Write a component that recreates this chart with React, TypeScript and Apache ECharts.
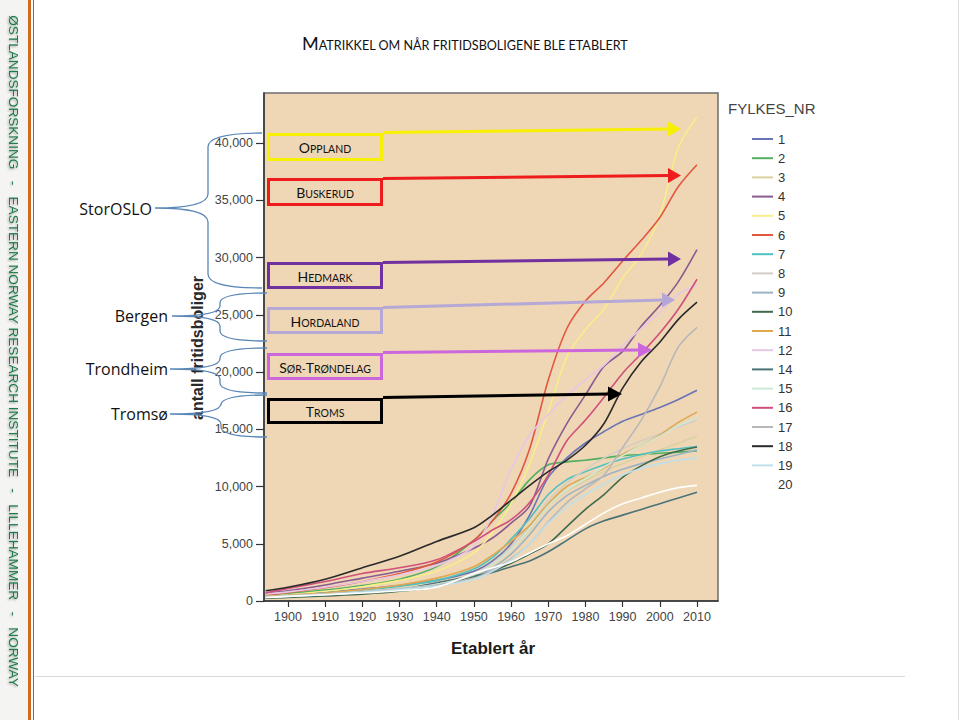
import React, { useEffect, useRef } from 'react';
import * as echarts from 'echarts';

// ---- data ----
const YEARS = [1894, 1900, 1910, 1920, 1930, 1940, 1950, 1955, 1960, 1965, 1970, 1975, 1980, 1985, 1990, 1995, 2000, 2005, 2010];

const F1 = [500, 600, 800, 1050, 1350, 1800, 2600, 3500, 5000, 7500, 10800, 12500, 13800, 14800, 15700, 16300, 16900, 17600, 18400];
const F2 = [500, 650, 950, 1350, 1900, 3000, 5300, 7000, 8600, 10600, 11900, 12150, 12300, 12500, 12700, 12800, 12900, 13000, 13100];
const F3 = [400, 500, 650, 850, 1100, 1500, 2300, 3200, 4500, 6200, 8300, 9600, 10500, 11300, 12000, 12600, 13200, 13800, 14400];
const F4 = [700, 900, 1400, 2000, 2600, 3300, 4600, 5500, 6800, 8300, 12400, 15500, 18000, 20500, 21800, 24000, 25800, 27900, 30700];
const F5 = [400, 550, 850, 1250, 1800, 2600, 4200, 6000, 8500, 12000, 16500, 21300, 23700, 25500, 28200, 30300, 33700, 39600, 42300];
const F6 = [500, 750, 1150, 1700, 2400, 3400, 5300, 7000, 9400, 13300, 19300, 23800, 26200, 27800, 29700, 31500, 33500, 36200, 38100];
const F7 = [400, 500, 700, 950, 1300, 1800, 2800, 3800, 5400, 7200, 9300, 10600, 11300, 11900, 12400, 12800, 13100, 13300, 13500];
const F8 = [400, 500, 650, 850, 1100, 1500, 2400, 3300, 4700, 6500, 8800, 10300, 11500, 12500, 13300, 14000, 14600, 15200, 15800];
const F9 = [350, 450, 600, 800, 1050, 1400, 2100, 2900, 4100, 5800, 7800, 9200, 10100, 10900, 11500, 12000, 12400, 12800, 13200];
const F10 = [250, 300, 450, 600, 850, 1300, 2100, 2600, 3300, 4100, 5000, 6500, 8000, 9300, 10800, 11800, 12600, 13100, 13450];
const F11 = [400, 500, 700, 1000, 1400, 2000, 3000, 4000, 5200, 6600, 8500, 10000, 10800, 11600, 12800, 13600, 14500, 15600, 16500];
const F12 = [600, 800, 1200, 1700, 2300, 3100, 4800, 7500, 11500, 14500, 16300, 18000, 19300, 20600, 22300, 23800, 25200, 26800, 27600];
const F14 = [300, 400, 550, 750, 1000, 1600, 2200, 2500, 3000, 3500, 4300, 5300, 6300, 7000, 7500, 8000, 8500, 9000, 9500];
const F15 = [350, 450, 600, 800, 1050, 1450, 2300, 3200, 4500, 6300, 8300, 9700, 10700, 11700, 12700, 13600, 14400, 15300, 16000];
const F16 = [700, 1100, 1700, 2400, 2900, 3600, 5200, 6200, 7100, 8600, 11000, 14000, 15800, 17800, 19900, 21600, 23400, 25500, 28100];
const F17 = [350, 450, 600, 800, 1050, 1400, 2000, 2700, 3700, 5000, 6900, 8600, 9800, 11000, 13400, 15800, 18700, 22200, 23900];
const F18 = [900, 1200, 1900, 2900, 3900, 5200, 6400, 7500, 8800, 10100, 11300, 12300, 13600, 15500, 18600, 20900, 22600, 24600, 26100];
const F19 = [300, 400, 550, 750, 1000, 1300, 1900, 2600, 3600, 5000, 6800, 8200, 9300, 10200, 11000, 11600, 12000, 12300, 12500];
const F20 = [300, 400, 550, 700, 900, 1200, 2400, 2900, 3400, 4200, 5000, 5700, 6700, 7700, 8500, 9000, 9500, 9900, 10100];

const FYLKES_NR = ['1', '2', '3', '4', '5', '6', '7', '8', '9', '10', '11', '12', '14', '15', '16', '17', '18', '19', '20'];
const SERIES_VALUES = [F1, F2, F3, F4, F5, F6, F7, F8, F9, F10, F11, F12, F14, F15, F16, F17, F18, F19, F20];
const LINE_COLORS = ['#6A73B5', '#52B060', '#D9D2A0', '#8A5A90', '#F7EE8A', '#E2583F', '#50C0C0', '#D5CDC5', '#9DB3C5', '#3F6A4E', '#E0A850', '#E6C8E6', '#4A7378', '#CDE8D5', '#D0507A', '#B8B8B8', '#2A2A2A', '#BFE0EA', '#FFFFFF'];

const X_TICKS = [1900, 1910, 1920, 1930, 1940, 1950, 1960, 1970, 1980, 1990, 2000, 2010];
const Y_TICKS = [0, 5000, 10000, 15000, 20000, 25000, 30000, 35000, 40000];

const REGION_LABELS = ['StorOSLO', 'Bergen', 'Trondheim', 'Tromsø'];
const BOX_TEXTS = ['{a|O}{b|PPLAND}', '{a|B}{b|USKERUD}', '{a|H}{b|EDMARK}', '{a|H}{b|ORDALAND}', '{a|S}{b|ØR-}{a|T}{b|RØNDELAG}', '{a|T}{b|ROMS}'];

function bracePath(xEnd: number, yTop: number, yBot: number, xSpine: number, xTip: number, yTip: number, r: number) {
  return `M${xEnd} ${yTop} Q${xSpine} ${yTop} ${xSpine} ${yTop + r} L${xSpine} ${yTip - r} Q${xSpine} ${yTip} ${xTip} ${yTip} Q${xSpine} ${yTip} ${xSpine} ${yTip + r} L${xSpine} ${yBot - r} Q${xSpine} ${yBot} ${xEnd} ${yBot}`;
}

export default function App() {
  const ref = useRef<HTMLDivElement>(null);
  useEffect(() => {
    const braces = [
      ['braceOslo', bracePath(262, 133, 288, 208, 155, 208, 14)],
      ['braceBergen', bracePath(267, 293, 341, 220, 172, 316, 10)],
      ['braceTrondheim', bracePath(267, 348, 393, 220, 170, 369, 10)],
      ['braceTromso', bracePath(267, 395, 437, 221, 170, 414, 10)],
    ];
    braces.forEach(([name, d]) => {
      echarts.graphic.registerShape(name, echarts.graphic.extendPath(d, {}));
    });

    const chart = echarts.init(ref.current!, null, { renderer: 'svg' });

    const boxes = [
      { y0: 133, y1: 161, color: '#F7F000', ay1: 132.5, ax2: 668, ay2: 129, tip: 681 },
      { y0: 178, y1: 206, color: '#EE1C1C', ay1: 178.5, ax2: 668, ay2: 175.5, tip: 681 },
      { y0: 262, y1: 289, color: '#7030A0', ay1: 262.5, ax2: 668, ay2: 259, tip: 681 },
      { y0: 307, y1: 334, color: '#B5A8D6', ay1: 307.5, ax2: 662, ay2: 300, tip: 675 },
      { y0: 353, y1: 380, color: '#CC66DD', ay1: 352.5, ax2: 638, ay2: 350, tip: 652 },
      { y0: 398, y1: 424, color: '#000000', ay1: 397.5, ax2: 608, ay2: 394, tip: 622 },
    ];

    const graphics: any[] = [];
    // left banner
    graphics.push({ type: 'rect', z: 100, shape: { x: 0, y: 0, width: 28, height: 720 }, style: { fill: '#F4F4F2' } });
    graphics.push({ type: 'rect', z: 100, shape: { x: 28, y: 0, width: 3, height: 720 }, style: { fill: '#CF6A1F' } });
    graphics.push({ type: 'line', z: 100, shape: { x1: 33.5, y1: 0, x2: 33.5, y2: 720 }, style: { stroke: '#3A8A5A', lineWidth: 1 } });
    graphics.push({
      type: 'text', z: 101, x: 14, y: 351, rotation: -Math.PI / 2,
      style: {
        text: 'ØSTLANDSFORSKNING   -   EASTERN NORWAY RESEARCH INSTITUTE   -   LILLEHAMMER   -   NORWAY',
        fill: '#1E7A4A', font: '13.6px "Liberation Sans", Arial, sans-serif', textAlign: 'center', textVerticalAlign: 'middle',
        textShadowColor: 'rgba(0,0,0,0.35)', textShadowBlur: 2, textShadowOffsetX: 1, textShadowOffsetY: 1,
      },
    });
    graphics.push({ type: 'line', z: 100, shape: { x1: 35, y1: 676.5, x2: 905, y2: 676.5 }, style: { stroke: '#DADADA', lineWidth: 1 } });
    graphics.push({ type: 'line', z: 100, shape: { x1: 958.5, y1: 0, x2: 958.5, y2: 720 }, style: { stroke: '#E0E0E0', lineWidth: 1 } });

    // title
    graphics.push({
      type: 'text', z: 101, x: 302, y: 52,
      style: {
        text: '{a|M}{b|ATRIKKEL OM NÅR FRITIDSBOLIGENE BLE ETABLERT}',
        textAlign: 'left', textVerticalAlign: 'bottom',
        rich: {
          a: { fontFamily: 'Lato', fontSize: 18, fill: '#111', verticalAlign: 'bottom' },
          b: { fontFamily: 'Lato', fontSize: 12.6, fill: '#111', verticalAlign: 'bottom' },
        },
      },
    });

    // legend title
    graphics.push({ type: 'text', z: 101, x: 728, y: 108, style: { text: 'FYLKES_NR', fill: '#444', font: '15px "Liberation Sans", Arial, sans-serif', textAlign: 'left', textVerticalAlign: 'middle' } });

    // axis titles
    graphics.push({ type: 'text', z: 101, x: 197, y: 348, rotation: Math.PI / 2, style: { text: 'antall fritidsboliger', fill: '#2a2a2a', font: 'bold 16px "Liberation Sans", Arial, sans-serif', textAlign: 'center', textVerticalAlign: 'middle' } });
    graphics.push({ type: 'text', z: 101, x: 493, y: 648, style: { text: 'Etablert år', fill: '#1a1a1a', font: 'bold 17px "Liberation Sans", Arial, sans-serif', textAlign: 'center', textVerticalAlign: 'middle' } });

    // region labels
    const labelPos = [[152, 209], [168, 316], [168, 369], [168, 414]];
    REGION_LABELS.forEach((t, i) => {
      graphics.push({ type: 'text', z: 101, x: labelPos[i][0], y: labelPos[i][1], style: { text: t, fill: '#111', font: '16px "Open Sans", sans-serif', textAlign: 'right', textVerticalAlign: 'middle' } });
    });

    // braces
    braces.forEach(([name]) => {
      graphics.push({ type: name, z: 102, x: 0, y: 0, scaleX: 1, scaleY: 1, style: { stroke: '#5A86B6', fill: null, lineWidth: 1.3 } });
    });

    // boxes + arrows
    boxes.forEach((b, i) => {
      graphics.push({ type: 'rect', z: 103, shape: { x: 268.5, y: b.y0 + 1.5, width: 113, height: b.y1 - b.y0 - 3 }, style: { stroke: b.color, fill: null, lineWidth: 3 } });
      graphics.push({
        type: 'text', z: 104, x: 325, y: (b.y0 + b.y1) / 2 + 0.5,
        style: {
          text: BOX_TEXTS[i], textAlign: 'center', textVerticalAlign: 'middle',
          rich: {
            a: { fontFamily: 'Lato', fontSize: 14, fill: '#111', verticalAlign: 'bottom' },
            b: { fontFamily: 'Lato', fontSize: 10.5, fill: '#111', verticalAlign: 'bottom' },
          },
        },
      });
      graphics.push({ type: 'line', z: 103, shape: { x1: 383, y1: b.ay1, x2: b.ax2 + 1, y2: b.ay2 }, style: { stroke: b.color, lineWidth: 3 } });
      graphics.push({ type: 'polygon', z: 103, shape: { points: [[b.ax2, b.ay2 - 7.5], [b.tip, b.ay2], [b.ax2, b.ay2 + 7.5]] }, style: { fill: b.color } });
    });

    const series = FYLKES_NR.map((name, i) => ({
      name,
      type: 'line',
      showSymbol: false,
      smooth: 0.3,
      color: LINE_COLORS[i],
      lineStyle: { color: LINE_COLORS[i], width: 1.6 },
      data: YEARS.map((y, j) => [y, SERIES_VALUES[i][j]]),
      silent: true,
      z: 2,
    }));

    const option: any = {
      animation: false,
      backgroundColor: '#ffffff',
      textStyle: { fontFamily: '"Liberation Sans", Arial, sans-serif' },
      grid: {
        left: 264, top: 93, width: 454, height: 508,
        show: true, backgroundColor: '#EFD6B5', borderColor: '#6E6E6E', borderWidth: 1.5,
        containLabel: false, outerBoundsMode: 'none',
      },
      xAxis: {
        type: 'value', min: 1893.55, max: 2015.65,
        axisLine: { show: true, lineStyle: { color: '#333', width: 1.5 } },
        axisTick: { show: true, length: 6, customValues: X_TICKS, lineStyle: { color: '#333', width: 1.2 } },
        axisLabel: { customValues: X_TICKS, color: '#444', fontSize: 12.5, margin: 9, formatter: (v: number) => String(v) },
        splitLine: { show: false },
      },
      yAxis: {
        type: 'value', min: 0, max: 44370,
        axisLine: { show: true, lineStyle: { color: '#333', width: 1.5 } },
        axisTick: { show: true, length: 8, customValues: Y_TICKS, lineStyle: { color: '#333', width: 1.2 } },
        axisLabel: { customValues: Y_TICKS, color: '#444', fontSize: 12.5, margin: 11, formatter: (v: number) => v.toLocaleString('en-US') },
        splitLine: { show: false },
      },
      legend: {
        orient: 'vertical', left: 747, top: 127,
        icon: 'rect', itemWidth: 21, itemHeight: 2, itemGap: 5.2,
        selectedMode: false,
        textStyle: { fontSize: 13, color: '#333', lineHeight: 14, padding: [0, 0, 0, 0] },
        data: FYLKES_NR,
      },
      series,
      graphic: { elements: graphics },
    };
    chart.setOption(option);
    return () => chart.dispose();
  }, []);
  return <div ref={ref} style={{ position: 'fixed', left: 0, top: 0, width: 960, height: 720, background: '#fff' }} />;
}
